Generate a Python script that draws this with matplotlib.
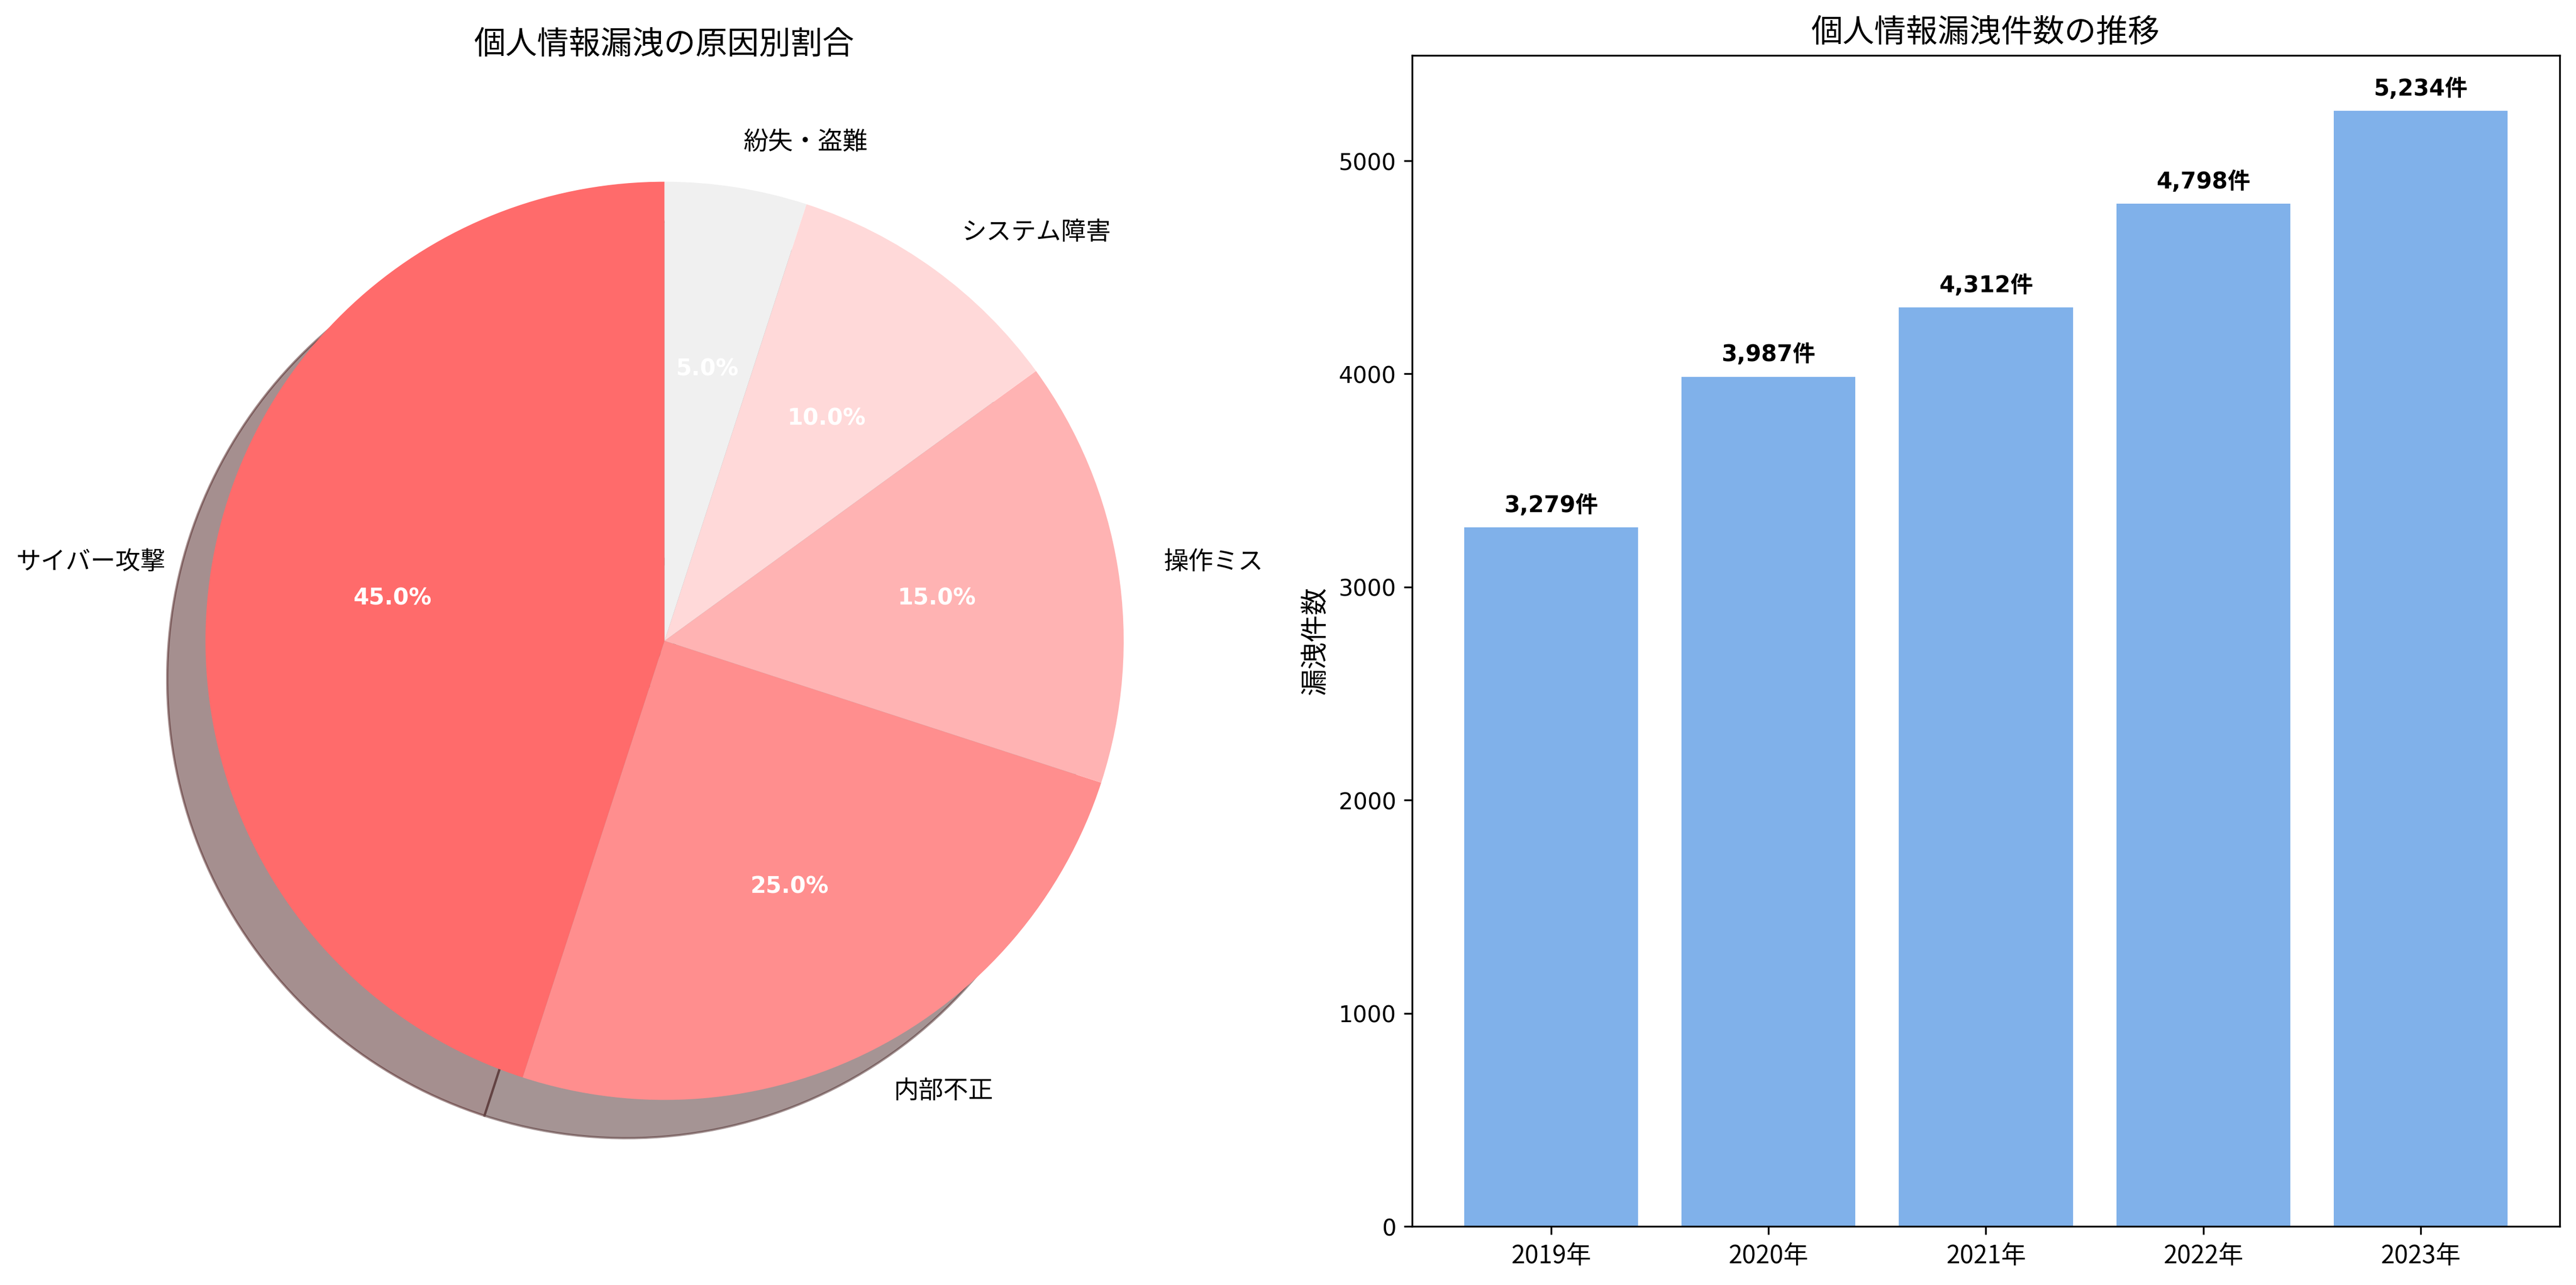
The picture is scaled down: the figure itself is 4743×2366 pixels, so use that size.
import matplotlib
matplotlib.use("Agg")
import matplotlib.pyplot as plt

JP = "Noto Sans CJK JP"

causes = ["サイバー攻撃", "内部不正", "操作ミス", "システム障害", "紛失・盗難"]
shares = [45, 25, 15, 10, 5]
pie_colors = ["#ff6b6b", "#ff8e8e", "#ffb3b3", "#ffd9d9", "#f0f0f0"]

years = ["2019年", "2020年", "2021年", "2022年", "2023年"]
counts = [3279, 3987, 4312, 4798, 5234]

fig, (ax1, ax2) = plt.subplots(1, 2, figsize=(16, 8))

wedges, texts, autotexts = ax1.pie(
    shares, labels=causes, colors=pie_colors, autopct="%1.1f%%",
    startangle=90, shadow=True,
)
for t in texts:
    t.set_fontfamily(JP)
    t.set_fontsize(11)
for t in autotexts:
    t.set_color("white")
    t.set_fontweight("bold")
    t.set_fontsize(10)
ax1.set_title("個人情報漏洩の原因別割合", fontfamily=JP, fontsize=14)

x = list(range(len(years)))
bars = ax2.bar(x, counts, color="#4a90e2", alpha=0.7)
ax2.set_xticks(x)
ax2.set_xticklabels(years, fontfamily=JP, fontsize=11)
ax2.set_ylabel("漏洩件数", fontfamily=JP, fontsize=12)
ax2.set_title("個人情報漏洩件数の推移", fontfamily=JP, fontsize=14)
for xi, c in zip(x, counts):
    ax2.text(xi, c + 50, f"{c:,}件", ha="center", va="bottom",
             fontweight="bold", fontsize=10, family=["DejaVu Sans", JP])

plt.tight_layout()
fig.savefig("out.png", dpi=300, bbox_inches="tight")
